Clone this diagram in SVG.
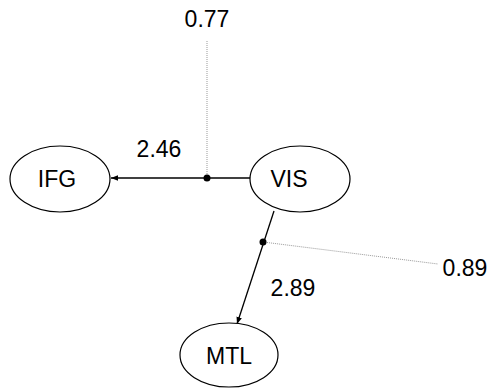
<svg xmlns="http://www.w3.org/2000/svg" width="489" height="389" viewBox="0 0 489 389">
<style>
.node ellipse{fill:#fff;stroke:#000;stroke-width:1.2}
text{font-family:"Liberation Sans",Arial,sans-serif;font-size:23px;fill:#000}
.edge{stroke:#000;stroke-width:1.3;fill:none}
.dot{stroke:#999;stroke-width:1;stroke-dasharray:1 1;fill:none}
</style>
<defs>
<marker id="ah" viewBox="0 0 10 10" refX="10" refY="5" markerWidth="7" markerHeight="7" orient="auto" markerUnits="userSpaceOnUse">
<path d="M0,1 L10,5 L0,9 Z" fill="#000"/>
</marker>
</defs>
<g id="connectors">
<line class="edge" x1="251" y1="178" x2="111" y2="178" marker-end="url(#ah)"/>
<line class="dot" x1="207" y1="178" x2="207" y2="40"/>
<circle cx="207" cy="178" r="3.5" fill="#000"/>
<line class="edge" x1="274" y1="211" x2="237" y2="324" marker-end="url(#ah)"/>
<line class="dot" x1="263" y1="242" x2="438" y2="264"/>
<circle cx="263" cy="242" r="3.5" fill="#000"/>
<text x="207" y="27" text-anchor="middle">0.77</text>
<text x="159" y="157" text-anchor="middle">2.46</text>
<text x="465" y="276" text-anchor="middle">0.89</text>
<text x="293" y="296" text-anchor="middle">2.89</text>
</g>
<g id="IFG" class="node">
<ellipse cx="60" cy="179" rx="50" ry="33"/>
<text x="57" y="187" text-anchor="middle">IFG</text>
</g>
<g id="VIS" class="node">
<ellipse cx="300" cy="179" rx="50" ry="33"/>
<text x="289" y="187" text-anchor="middle">VIS</text>
</g>
<g id="MTL" class="node">
<ellipse cx="229" cy="355" rx="49" ry="32"/>
<text x="229" y="364" text-anchor="middle">MTL</text>
</g>
</svg>
